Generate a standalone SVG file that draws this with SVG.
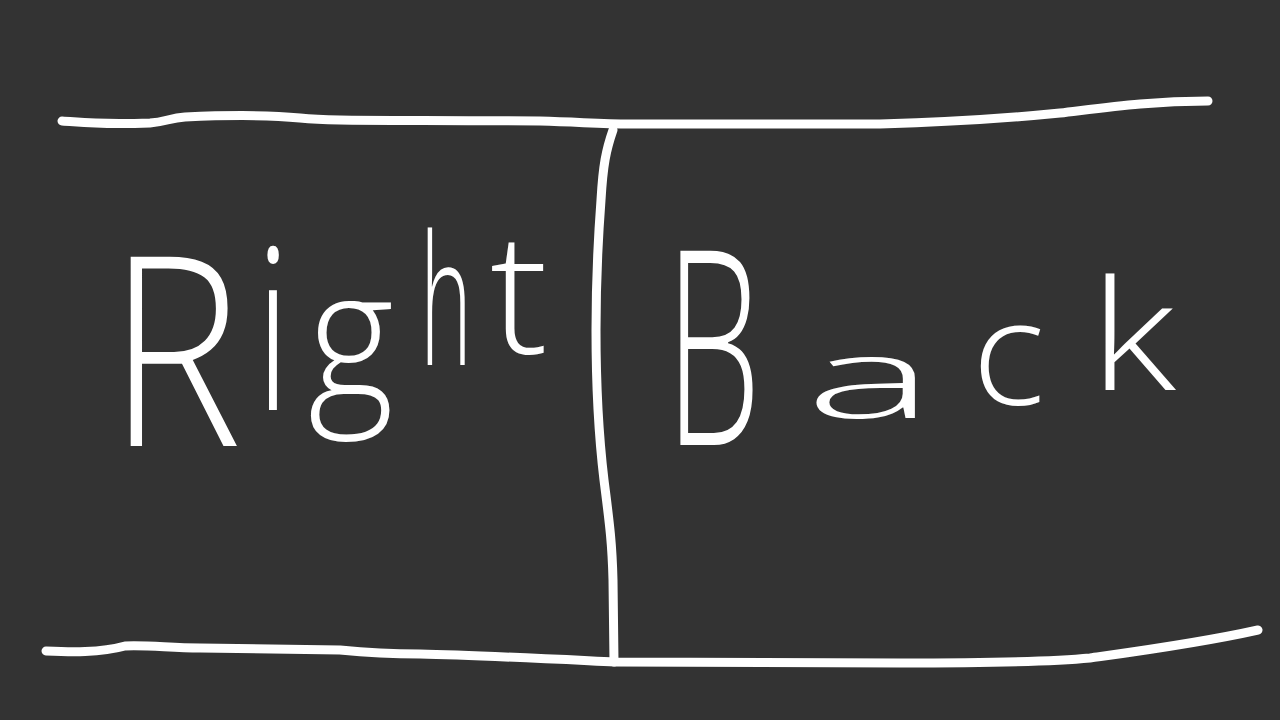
<svg xmlns="http://www.w3.org/2000/svg" width="1280" height="720" viewBox="0 0 1280 720">
<style>
.ln{fill:none;stroke:#ffffff;stroke-width:9;stroke-linecap:round;stroke-linejoin:round}
.hw{fill:#ffffff;font-family:"Open Sans","Liberation Sans",Arial,sans-serif;font-weight:300}
</style>
<rect width="1280" height="720" fill="#333333"/>
<g id="lines">
<path class="ln" d="M62,121 C80,122 95,125 150,123 C165,122 170,118 185,117 C230,115 270,115 300,118 C330,121 360,120 540,121 C580,122 600,124 630,124 L880,124 C950,122 1000,119 1060,113 C1110,107 1150,101 1208,101"/>
<path class="ln" d="M46,651 C70,652 100,653 125,646 C150,645 170,648 200,648 L340,650 C360,652 380,654 420,654 C470,655 530,658 615,662 L900,663 C980,663 1060,661 1090,658 C1140,651 1200,643 1258,630"/>
<path class="ln" d="M613,130 C606,150 603,165 601,200 C598,240 596,280 596,330 C596,380 598,430 604,480 C609,520 612,540 613,580 L614,662"/>
</g>
<g id="right">
<text class="hw"><tspan x="108" y="446" font-size="265" textLength="134" lengthAdjust="spacingAndGlyphs">R</tspan><tspan x="255" y="410" font-size="225" textLength="36" lengthAdjust="spacingAndGlyphs">i</tspan><tspan x="308" y="398" font-size="180" textLength="86" lengthAdjust="spacingAndGlyphs">g</tspan><tspan x="420" y="365" font-size="180" textLength="52" lengthAdjust="spacingAndGlyphs">h</tspan><tspan x="490" y="353" font-size="168" textLength="58" lengthAdjust="spacingAndGlyphs">t</tspan></text>
</g>
<g id="back">
<text class="hw"><tspan x="665" y="445" font-size="272" textLength="96" lengthAdjust="spacingAndGlyphs">B</tspan><tspan x="805" y="418" font-size="112" textLength="130" lengthAdjust="spacingAndGlyphs">a</tspan><tspan x="972" y="405" font-size="145" textLength="73" lengthAdjust="spacingAndGlyphs">c</tspan><tspan x="1090" y="390" font-size="154" textLength="86" lengthAdjust="spacingAndGlyphs">k</tspan></text>
</g>
</svg>
